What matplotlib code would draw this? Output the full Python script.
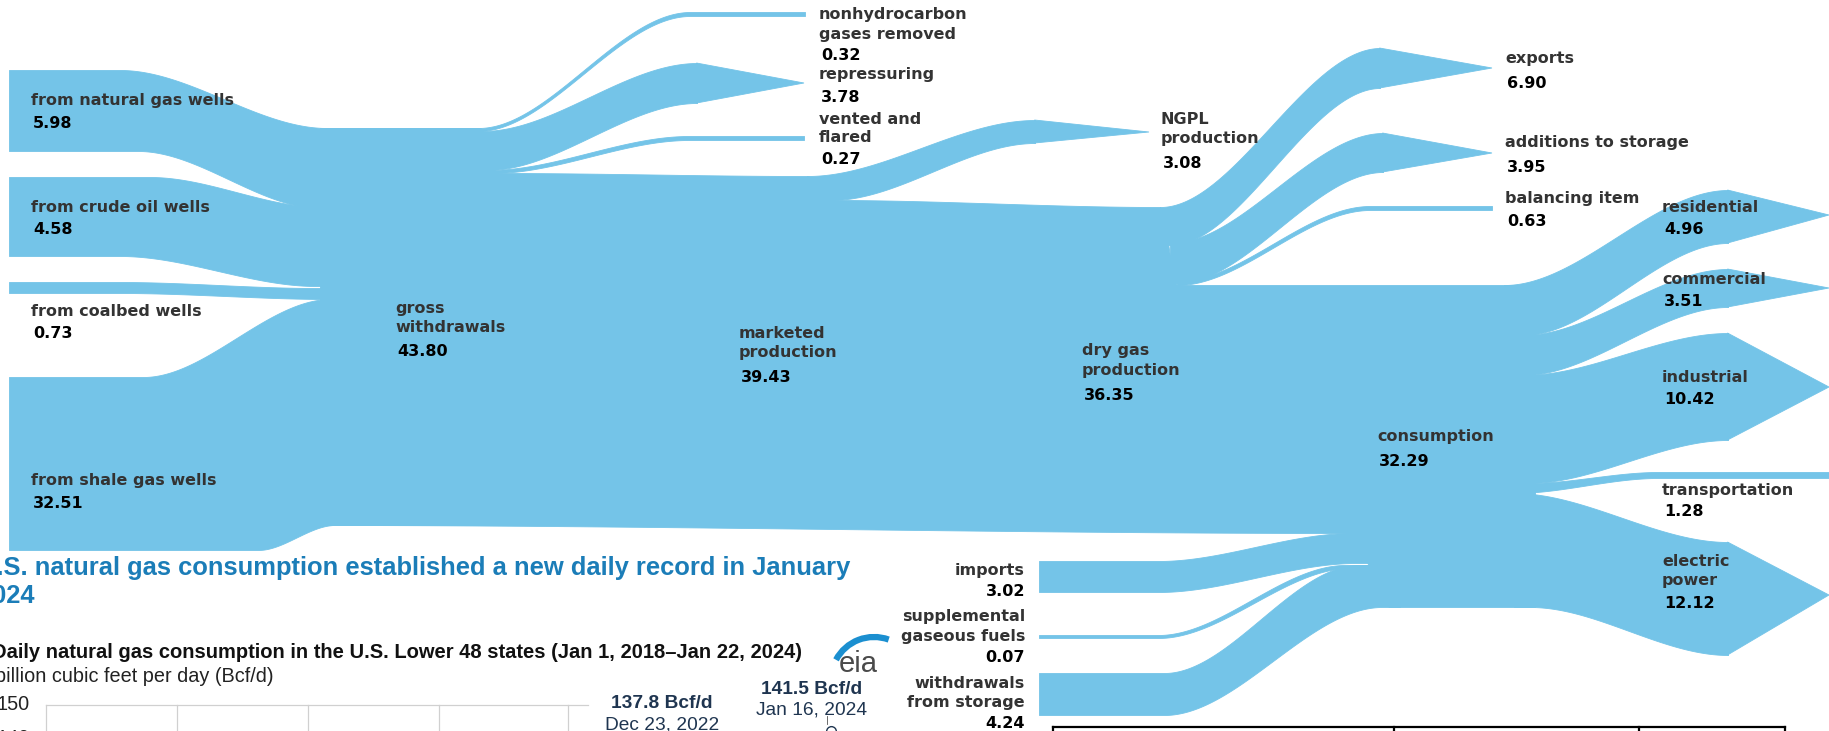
#!/usr/bin/env python3

import numpy as np
import matplotlib
matplotlib.use("Agg")
import matplotlib.pyplot as plt
from matplotlib.patches import Arc

# --- data (Bcf/d) ---
source_names = ["from natural gas wells", "from crude oil wells",
                "from coalbed wells", "from shale gas wells"]
source_values = [5.98, 4.58, 0.73, 32.51]

stage_names = ["gross\nwithdrawals", "marketed\nproduction",
               "dry gas\nproduction", "consumption"]
stage_values = [43.80, 39.43, 36.35, 32.29]

removal_names = ["nonhydrocarbon\ngases removed", "repressuring", "vented and\nflared"]
removal_values = [0.32, 3.78, 0.27]

ngpl_name = "NGPL\nproduction"
ngpl_value = 3.08

disposition_names = ["exports", "additions to storage", "balancing item"]
disposition_values = [6.90, 3.95, 0.63]

supply_names = ["imports", "supplemental\ngaseous fuels", "withdrawals\nfrom storage"]
supply_values = [3.02, 0.07, 4.24]

sector_names = ["residential", "commercial", "industrial", "transportation", "electric\npower"]
sector_values = [4.96, 3.51, 10.42, 1.28, 12.12]

# overlapping chart fragment at the bottom
inset_title = "U.S. natural gas consumption established a new daily record in January\n2024"
inset_subtitle = "Daily natural gas consumption in the U.S. Lower 48 states (Jan 1, 2018\u2013Jan 22, 2024)"
inset_unit = "billion cubic feet per day (Bcf/d)"
inset_yticks = [150, 140]
peak_values = [137.8, 141.5]
peak_dates = ["Dec 23, 2022", "Jan 16, 2024"]

# --- layout (pixel space, y down) ---
BLUE = "#74c4e8"
W, H = 1829, 731

# each ribbon: top knots, bottom knots, optional arrow tip
ribbons = [
  # sources
  ([(9, 70), (120, 70), (327, 128), (480, 128)], [(9, 151), (138, 151), (320, 208), (480, 208)], None),
  ([(9, 177), (150, 177), (322, 207), (480, 207)], [(9, 256), (120, 256), (316, 286), (480, 286)], None),
  ([(9, 282), (120, 282), (317, 288), (480, 288)], [(9, 293), (120, 293), (330, 299), (480, 299)], None),
  ([(9, 377), (143, 377), (330, 299), (480, 299)], [(9, 550), (258, 550), (335, 525), (480, 525)], None),
  # main trunk
  ([(320, 128), (480, 128), (497, 173), (807, 176), (831, 200), (1160, 207), (1177, 285), (1535, 285)],
   [(320, 525), (1350, 533), (1390, 607), (1535, 607)], None),
  # removals
  ([(478, 128), (690, 12), (805, 12)], [(478, 131), (690, 16), (805, 16)], None),
  ([(482, 131), (697, 63)], [(487, 170), (697, 103)], (804, 83)),
  ([(488, 170), (689, 136), (804, 136)], [(492, 173), (689, 140), (804, 140)], None),
  # NGPL
  ([(807, 176), (1035, 120)], [(831, 200), (1035, 143)], (1149, 132)),
  # dispositions
  ([(1160, 207), (1380, 48)], [(1170, 245), (1380, 88)], (1492, 68)),
  ([(1170, 243), (1383, 133)], [(1177, 283), (1383, 172)], (1492, 153)),
  ([(1177, 281), (1370, 206), (1492, 206)], [(1177, 285), (1370, 210), (1492, 210)], None),
  # supplies
  ([(1039, 561), (1158, 561), (1352, 533), (1400, 533)], [(1039, 592), (1158, 592), (1356, 563), (1400, 563)], None),
  ([(1039, 635), (1158, 635), (1345, 565), (1400, 565)], [(1039, 638), (1158, 638), (1350, 568), (1400, 568)], None),
  ([(1039, 673), (1164, 673), (1358, 565), (1400, 565)], [(1039, 715), (1164, 715), (1382, 607), (1400, 607)], None),
  # sectors
  ([(1504, 285), (1728, 190)], [(1523, 335), (1728, 243)], (1829, 215)),
  ([(1523, 335), (1728, 269)], [(1523, 375), (1728, 307)], (1829, 288)),
  ([(1523, 375), (1728, 333)], [(1528, 483), (1728, 440)], (1829, 387)),
  ([(1528, 483), (1658, 472), (1829, 472)], [(1514, 493), (1658, 478), (1829, 478)], None),
  ([(1514, 493), (1728, 542)], [(1530, 607), (1728, 655)], (1829, 595)),
]

# label anchors: x, name line ys, value y
label_pos = {
  "sources": [(31, [100], 123), (31, [207], 230), (31, [311], 333), (31, [480], 504)],
  "stages": [(395, [309, 328], 351), (739, [333, 353], 377), (1082, [351, 370], 396), (1377, [437], 461)],
  "removals": [(819, [15, 34], 56), (819, [74], 97), (819, [119, 138], 160)],
  "ngpl": (1161, [119, 138], 163),
  "dispositions": [(1505, [59], 84), (1505, [143], 168), (1505, [198], 222)],
  "sectors": [(1662, [208], 230), (1662, [280], 302), (1662, [377], 399), (1662, [490], 512),
              (1662, [561, 580], 604)],
  "supplies": [(1025, [571], 591), (1025, [617, 636], 657), (1025, [683, 703], 723)],
}


def edge(knots, xs):
  kx = np.array([k[0] for k in knots], dtype=float)
  ky = np.array([k[1] for k in knots], dtype=float)
  xs = np.asarray(xs, dtype=float)
  ys = np.empty_like(xs)
  for i, x in enumerate(xs):
    if x <= kx[0]:
      ys[i] = ky[0]
    elif x >= kx[-1]:
      ys[i] = ky[-1]
    else:
      j = np.searchsorted(kx, x) - 1
      t = (x - kx[j]) / (kx[j + 1] - kx[j])
      s = t * t * (3 - 2 * t)
      ys[i] = ky[j] + (ky[j + 1] - ky[j]) * s
  return ys


def draw_ribbon(ax, top, bot, tip):
  x0 = min(top[0][0], bot[0][0])
  x1 = max(top[-1][0], bot[-1][0])
  xs = np.linspace(x0, x1, 500)
  ax.fill_between(xs, edge(top, xs), edge(bot, xs), color=BLUE, lw=0.6, edgecolor=BLUE)
  if tip is not None:
    yt = edge(top, [x1])[0]
    yb = edge(bot, [x1])[0]
    ax.fill([x1 - 0.5, tip[0], x1 - 0.5], [yt, tip[1], yb], color=BLUE, lw=0.6, edgecolor=BLUE)


NAME_KW = dict(fontsize=11.5, fontweight="bold", color="#333333", family="DejaVu Sans", va="center")
VAL_KW = dict(fontsize=11.5, fontweight="bold", color="#000000", family="DejaVu Sans", va="center")


def draw_label(ax, pos, name, value, ha="left"):
  x, ys, yv = pos
  for line, y in zip(name.split("\n"), ys):
    ax.text(x, y, line, ha=ha, **NAME_KW)
  ax.text(x + (2 if ha == "left" else 0), yv, f"{value:.2f}", ha=ha, **VAL_KW)


fig = plt.figure(figsize=(W / 100, H / 100), dpi=100)
ax = fig.add_axes([0, 0, 1, 1])
ax.set_xlim(0, W)
ax.set_ylim(H, 0)
ax.axis("off")

for (top, bot, tip) in ribbons:
  draw_ribbon(ax, top, bot, tip)

for pos, n, v in zip(label_pos["sources"], source_names, source_values):
  draw_label(ax, pos, n, v)
for pos, n, v in zip(label_pos["stages"], stage_names, stage_values):
  draw_label(ax, pos, n, v)
for pos, n, v in zip(label_pos["removals"], removal_names, removal_values):
  draw_label(ax, pos, n, v)
draw_label(ax, label_pos["ngpl"], ngpl_name, ngpl_value)
for pos, n, v in zip(label_pos["dispositions"], disposition_names, disposition_values):
  draw_label(ax, pos, n, v)
for pos, n, v in zip(label_pos["sectors"], sector_names, sector_values):
  draw_label(ax, pos, n, v)
for pos, n, v in zip(label_pos["supplies"], supply_names, supply_values):
  draw_label(ax, pos, n, v, ha="right")

# --- overlapping chart fragment (cut by the left edge, as in the source) ---
t1, t2 = inset_title.split("\n")
ax.text(-22, 568, t1, fontsize=18.4, fontweight="bold", color="#1b7db8",
        family="Liberation Sans", va="center", ha="left")
ax.text(-22, 596, t2, fontsize=18.4, fontweight="bold", color="#1b7db8",
        family="Liberation Sans", va="center", ha="left")
ax.text(-8, 653, inset_subtitle, fontsize=14.5, fontweight="bold", color="#111111",
        family="Liberation Sans", va="center", ha="left")
ax.text(-5, 677, inset_unit, fontsize=14.3, color="#222222",
        family="Liberation Sans", va="center", ha="left")
for val, y in zip(inset_yticks, [705, 738]):
  ax.text(-4, y, str(val), fontsize=14.3, color="#222222", family="Liberation Sans",
          va="center", ha="left")

grid_x = [46, 177, 308, 439, 568]
for gx in grid_x:
  ax.plot([gx, gx], [705, H + 5], color="#d0d0d0", lw=0.9)
ax.plot([46, 588], [705, 705], color="#d0d0d0", lw=0.9)

for val, date, (px, py) in zip(peak_values, peak_dates, [(662, 704), (812, 689)]):
  ax.text(px, py, f"{val} Bcf/d", fontsize=13.8, fontweight="bold", color="#1f3550",
          family="Liberation Sans", ha="center", va="center")
  ax.text(px, py + 21, date, fontsize=13.8, color="#1f3550",
          family="Liberation Sans", ha="center", va="center")
ax.plot([827, 827], [716, 724], color="#555555", lw=0.6)
ax.plot([831], [731], marker="o", ms=7, mfc="none", mec="#1f3550", mew=1)

# eia logo
ax.add_patch(Arc((874, 680), 86, 86, theta1=208, theta2=290, color="#1b8fd0", lw=4.5))
ax.text(858, 664, "eia", fontsize=21, color="#4a4a4a", family="Liberation Sans",
        ha="center", va="center")

# table edge at the bottom right
ax.plot([1053, 1785], [727, 727], color="#000000", lw=1.6)
for tx in [1053, 1394, 1639, 1785]:
  ax.plot([tx, tx], [727, H + 5], color="#000000", lw=1.6)

fig.savefig("out.png", dpi=100)
